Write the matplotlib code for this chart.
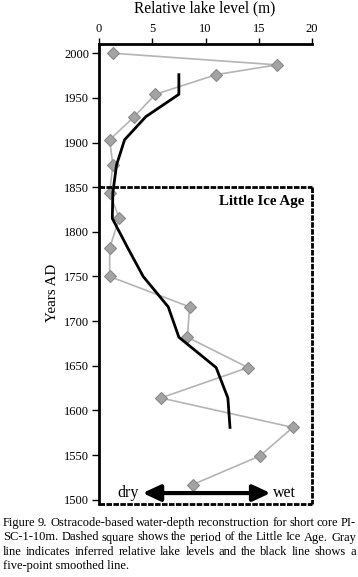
import matplotlib
matplotlib.use("Agg")
import matplotlib.pyplot as plt
import numpy as np

# ---- data ----
years = [2000, 1987, 1976, 1954, 1929, 1903, 1875, 1844, 1815, 1782,
         1750, 1716, 1682, 1648, 1614, 1581, 1549, 1517]
level = [1.3, 16.7, 11.0, 5.3, 3.3, 1.0, 1.3, 1.0, 1.9, 1.0,
         1.0, 8.5, 8.3, 14.0, 5.8, 18.2, 15.1, 8.8]
smooth_years = [1976, 1954, 1929, 1903, 1875, 1844, 1815, 1782,
                1750, 1716, 1682, 1648, 1614, 1581]
smooth_level = [7.5, 7.5, 4.4, 2.4, 1.65, 1.3, 1.25, 2.7,
                4.15, 6.5, 7.5, 11.0, 12.1, 12.3]
xticks = [0, 5, 10, 15, 20]
yticks = list(range(1500, 2001, 50))
lia_start = 1850

caption_lines = [
    "Figure 9. Ostracode-based water-depth reconstruction for short core PI-",
    "SC-1-10m. Dashed square shows the period of the Little Ice Age. Gray",
    "line indicates inferred relative lake levels and the black line shows a",
    "five-point smoothed line.",
]

plt.rcParams['font.family'] = ['Liberation Serif', 'DejaVu Serif']

W, H = 358, 577
fig = plt.figure(figsize=(W / 100, H / 100), dpi=100)
ax = fig.add_axes([99 / W, 1 - 503.5 / H, 213 / W, (503.5 - 44.3) / H])

ymin, ymax = 1495.8, 2010
ax.set_xlim(0, 20)
ax.set_ylim(ymin, ymax)

ax.plot(level, years, color='#b4b4b4', lw=1.2, zorder=2)
ax.plot(level, years, ls='none', marker='D', ms=6, mfc='#a3a3a3',
        mec='#8a8a8a', mew=0.8, zorder=3)
ax.plot(smooth_level, smooth_years, color='black', lw=2.0, zorder=4)

# spines
for s in ['right', 'bottom']:
    ax.spines[s].set_visible(False)
for s in ['left', 'top']:
    ax.spines[s].set_linewidth(2.0)
    ax.spines[s].set_color('black')

ax.xaxis.tick_top()
ax.set_xticks(xticks)
ax.set_yticks(yticks)
ax.tick_params(axis='x', direction='out', length=4, width=1.0, pad=3,
               labelsize=9, top=True, bottom=False)
ax.tick_params(axis='y', direction='out', length=5, width=1.0, pad=2,
               labelsize=9)

# Little Ice Age dashed box
ls_box = (0, (2.0, 0.5))
ax.plot([0, 20], [lia_start, lia_start], color='black', lw=2.0, ls=ls_box,
        clip_on=False, zorder=5)
ax.plot([20, 20], [lia_start, ymin], color='black', lw=2.0, ls=ls_box,
        clip_on=False, zorder=5)
ax.plot([0, 20], [ymin, ymin], color='black', lw=2.0, ls=ls_box,
        clip_on=False, zorder=5)
ax.text(19.25, 1834, "Little Ice Age", ha='right', va='center',
        fontsize=10.8, fontweight='bold')

# dry / wet arrow
ax.annotate("", xy=(4.1, 1507.5), xytext=(16.1, 1507.5),
            arrowprops=dict(arrowstyle='<|-|>,head_length=0.75,head_width=0.35',
                            lw=3, color='black', shrinkA=0, shrinkB=0,
                            mutation_scale=14))
ax.text(3.7, 1508, "dry", ha='right', va='center', fontsize=11.5)
ax.text(16.35, 1508, "wet", ha='left', va='center', fontsize=11.5)

fig.text(205 / W, 1 - 8 / H, "Relative lake level (m)", ha='center',
         va='center', fontsize=11.2)
fig.text(52 / W, 1 - 293 / H, "Years AD", ha='center', va='center',
         rotation=90, fontsize=10.8)

# justified caption
renderer = fig.canvas.get_renderer()
x0, x1 = 3, 356
centers = [523, 537.5, 552, 566.5]
cap_fs = 9.0
for i, line in enumerate(caption_lines):
    yfig = 1 - centers[i] / H
    words = line.split(' ')
    if i == len(caption_lines) - 1:
        fig.text(x0 / W, yfig, line, ha='left', va='center', fontsize=cap_fs)
        continue
    objs = [fig.text(0, yfig, w, ha='left', va='center', fontsize=cap_fs)
            for w in words]
    widths = [o.get_window_extent(renderer).width for o in objs]
    gap = (x1 - x0 - sum(widths)) / (len(words) - 1)
    x = x0
    for o, wd in zip(objs, widths):
        o.set_x(x / W)
        x += wd + gap

fig.savefig("out.png", dpi=100)
